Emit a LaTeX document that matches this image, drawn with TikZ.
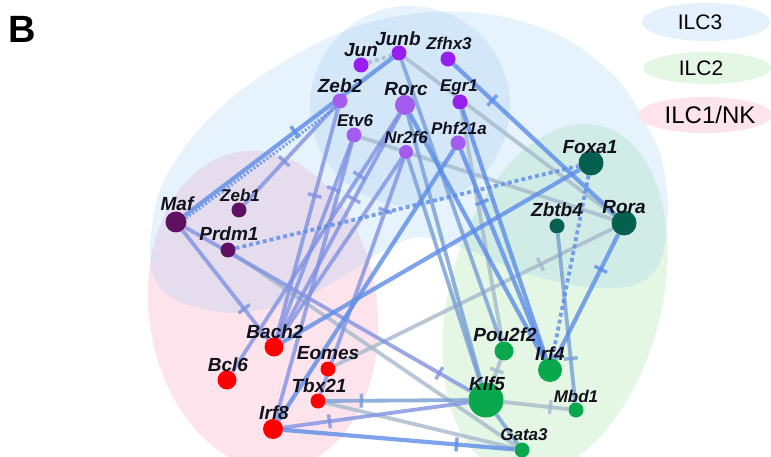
\documentclass[tikz,border=0pt]{standalone}
\usepackage{fontspec}
\setmainfont{Liberation Sans}
\usetikzlibrary{decorations.markings}
\pgfdeclarelayer{bg}
\pgfdeclarelayer{edges}
\pgfsetlayers{bg,edges,main}
\definecolor{bgblue}{RGB}{145,196,242}
\definecolor{bgpink}{RGB}{253,228,236}
\definecolor{bggreen}{RGB}{228,246,228}
\definecolor{lgblue}{RGB}{228,240,251}
\definecolor{eblue}{RGB}{92,140,232}
\definecolor{elav}{RGB}{128,146,226}
\definecolor{egrey}{RGB}{165,186,204}
\definecolor{egb}{RGB}{118,158,212}
\definecolor{cviv}{RGB}{150,30,238}
\definecolor{clp}{RGB}{162,92,240}
\definecolor{cdp}{RGB}{96,16,96}
\definecolor{cred}{RGB}{255,0,0}
\definecolor{cgreen}{RGB}{10,168,76}
\definecolor{cteal}{RGB}{6,96,80}
\definecolor{ctext}{RGB}{18,18,28}
\begin{document}
\begin{tikzpicture}[x=1pt,y=-1pt,
  gene/.style={circle,inner sep=0pt,minimum size=#1,draw=none},
  lbl/.style={font=\fontsize{19}{19}\selectfont\bfseries\itshape,text=ctext,inner sep=0pt},
  lbls/.style={font=\fontsize{17}{17}\selectfont\bfseries\itshape,text=ctext,inner sep=0pt},
  legtxt/.style={font=\fontsize{21}{21}\selectfont,text=black,inner sep=0pt},
  ed/.style={line width=3.8pt,opacity=0.8,line cap=butt},
  eb/.style={ed,color=eblue,line width=4.2pt},
  el/.style={ed,color=elav},
  eg/.style={ed,color=egrey},
  egbl/.style={ed,color=egb},
  ebdot/.style={ed,color=eblue,dash pattern=on 4pt off 3pt},
  egdot/.style={ed,color=egrey,dash pattern=on 4pt off 3pt},
  tb/.style={postaction={decorate,decoration={markings,mark=at position #1 with {\draw[solid,line cap=butt,line width=3.4pt] (0pt,-7pt) -- (0pt,7pt);}}}}
]
\useasboundingbox (0,0) rectangle (771,457);
\begin{pgfonlayer}{bg}
\fill[white] (0,0) rectangle (771,457);
\fill[bgpink, rotate around={8:(263,310)}] (263,310) ellipse [x radius=114, y radius=160];
\fill[bggreen, rotate around={-15:(555,300)}] (555,300) ellipse [x radius=106, y radius=180];
\fill[bgblue, fill opacity=0.22] plot[smooth cycle] coordinates {
 (150,245) (160,190) (190,140) (235,95) (295,55) (360,25) (430,12) (500,16)
 (565,38) (618,80) (648,128) (662,160) (668,210) (660,262) (635,285) (585,287)
 (525,273) (468,250) (420,237) (385,250) (350,272) (300,300) (235,313) (180,302) (155,280)};
\fill[bgblue, fill opacity=0.22] (410,106) ellipse [x radius=100, y radius=100];
% legend
\fill[lgblue] (706,22) ellipse [x radius=64, y radius=19];
\fill[bggreen] (707,68) ellipse [x radius=64, y radius=16];
\fill[bgpink] (705,115) ellipse [x radius=67, y radius=18];
\end{pgfonlayer}

\node[font=\fontsize{38}{38}\selectfont\bfseries,inner sep=0pt] (panel) at (22,29) {B};
\node[legtxt] (lg3) at (700,22) {ILC3};
\node[legtxt] (lg2) at (701,68) {ILC2};
\node[legtxt,font=\fontsize{24}{24}\selectfont] (lg1) at (710,115) {ILC1/NK};

% genes
\node[gene=15,fill=cviv] (jun) at (361,65) {};
\node[gene=15,fill=cviv] (junb) at (399,53) {};
\node[gene=15,fill=cviv] (zfhx3) at (448,59) {};
\node[gene=15,fill=clp] (zeb2) at (340,101) {};
\node[gene=20,fill=clp] (rorc) at (405,105) {};
\node[gene=15,fill=cviv] (egr1) at (460,102) {};
\node[gene=15,fill=clp] (etv6) at (354,135) {};
\node[gene=14,fill=clp] (nr2f6) at (406,152) {};
\node[gene=15,fill=clp] (phf21a) at (458,143) {};
\node[gene=21,fill=cdp] (maf) at (176,222) {};
\node[gene=15,fill=cdp] (zeb1) at (239,210) {};
\node[gene=15,fill=cdp] (prdm1) at (228,250) {};
\node[gene=19,fill=cred] (bach2) at (274,347) {};
\node[gene=19,fill=cred] (bcl6) at (227,380) {};
\node[gene=15,fill=cred] (eomes) at (328,369) {};
\node[gene=15,fill=cred] (tbx21) at (318,401) {};
\node[gene=20,fill=cred] (irf8) at (273,429) {};
\node[gene=19,fill=cgreen] (pou2f2) at (504,351) {};
\node[gene=24,fill=cgreen] (irf4) at (550,370) {};
\node[gene=35,fill=cgreen] (klf5) at (486,400) {};
\node[gene=15,fill=cgreen] (mbd1) at (576,410) {};
\node[gene=15,fill=cgreen] (gata3) at (522,450) {};
\node[gene=25,fill=cteal] (foxa1) at (591,163) {};
\node[gene=15,fill=cteal] (zbtb4) at (557,226) {};
\node[gene=25,fill=cteal] (rora) at (624,223) {};

% labels
\node[lbl] (ljun) at (361,50) {Jun};
\node[lbl] (ljunb) at (398,39) {Junb};
\node[lbls] (lzfhx3) at (449,43) {Zfhx3};
\node[lbl] (lzeb2) at (340,86) {Zeb2};
\node[lbl] (lrorc) at (406,89) {Rorc};
\node[lbls] (legr1) at (459,87) {Egr1};
\node[lbls] (letv6) at (355,121) {Etv6};
\node[lbls] (lnr2f6) at (406,137) {Nr2f6};
\node[lbls] (lphf21a) at (459,128) {Phf21a};
\node[lbl] (lmaf) at (177,204) {Maf};
\node[lbls] (lzeb1) at (240,195) {Zeb1};
\node[lbl] (lprdm1) at (229,234) {Prdm1};
\node[lbl] (lbach2) at (275,332) {Bach2};
\node[lbl] (lbcl6) at (228,365) {Bcl6};
\node[lbl] (leomes) at (328,353) {Eomes};
\node[lbl] (ltbx21) at (319,386) {Tbx21};
\node[lbl] (lirf8) at (274,413) {Irf8};
\node[lbl] (lpou2f2) at (505,335) {Pou2f2};
\node[lbl] (lirf4) at (550,354) {Irf4};
\node[lbl] (lklf5) at (487,384) {Klf5};
\node[lbls] (lmbd1) at (576,396) {Mbd1};
\node[lbls] (lgata3) at (524,435) {Gata3};
\node[lbl] (lfoxa1) at (590,147) {Foxa1};
\node[lbl] (lzbtb4) at (557,210) {Zbtb4};
\node[lbl] (lrora) at (624,207) {Rora};

\begin{pgfonlayer}{edges}
\draw[egdot] (jun) -- (junb);
\draw[eg] (junb) -- (rora);
\draw[eg] (etv6) -- (rora);
\draw[eg, tb=0.74] (eomes) -- (rora);
\draw[eg] (prdm1) -- (gata3);
\draw[eg] (egr1) -- (pou2f2);
\draw[eg] (tbx21) -- (gata3);
\draw[eg, tb=0.72] (klf5) -- (mbd1);
\draw[eg, tb=0.45] (pou2f2) -- (klf5);
\draw[egbl] (junb) -- (pou2f2);
\draw[egbl] (rorc) -- (klf5);
\draw[egbl] (nr2f6) -- (klf5);
\draw[egbl, tb=0.74] (zbtb4) -- (mbd1);
\draw[egbl, tb=0.25] (tbx21) -- (klf5);
\draw[egbl] (klf5) -- (gata3);
\draw[el, tb=0.56] (zeb2) -- (zeb1);
\draw[el, tb=0.38] (zeb2) -- (bach2);
\draw[el, tb=0.24] (etv6) -- (bach2);
\draw[el, tb=0.24] (rorc) -- (bcl6);
\draw[el, tb=0.38] (rorc) -- (bach2);
\draw[el] (nr2f6) -- (bach2);
\draw[el, tb=0.22] (nr2f6) -- (tbx21);
\draw[el] (etv6) -- (irf8);
\draw[el, tb=0.72] (maf) -- (bach2);
\draw[el, tb=0.89] (maf) -- (klf5);
\draw[el, tb=0.25] (irf8) -- (klf5);
\draw[eb, tb=0.47] (junb) -- (maf);
\draw[ed,color=eblue,line width=3pt,dash pattern=on 2pt off 2pt,transform canvas={shift={(1.8pt,-2.4pt)}}] (zeb2) -- (maf);
\draw[eb, tb=0.24] (zfhx3) -- (rora);
\draw[eb] (egr1) -- (irf4);
\draw[eb] (rorc) -- (irf4);
\draw[eb, tb=0.25] (phf21a) -- (irf4);
\draw[eb] (phf21a) -- (irf8);
\draw[eb] (bach2) -- (foxa1);
\draw[eb, tb=0.28] (rora) -- (irf4);
\draw[eb, tb=0.75] (irf8) -- (gata3);
\draw[ebdot] (prdm1) -- (foxa1);
\draw[ebdot] (foxa1) -- (irf4);
\end{pgfonlayer}
\end{tikzpicture}
\end{document}
